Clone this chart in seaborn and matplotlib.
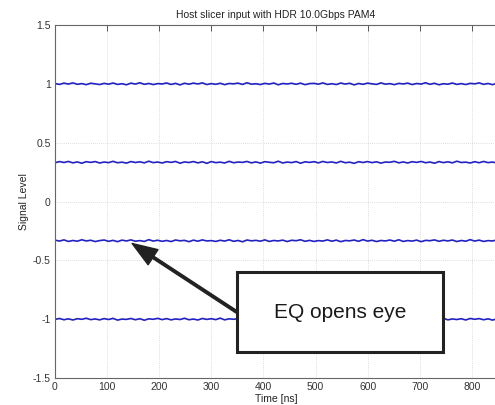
import numpy as np
import pandas as pd
import matplotlib
matplotlib.use("Agg")
import matplotlib.pyplot as plt
import seaborn as sns
from matplotlib.patches import Rectangle

# PAM4 slicer levels (signal units) and measured ripple around each level (thousandths)
levels = [1.0, 1/3, -1/3, -1.0]
ripple_top = [3,-5,6,-2,8,-4,2,-7,5,0,-6,4,-3,7,-5,1,-8,6,-2,9,-4,3,-6,2,-1,7,-5,4,-9,5,
              -3,6,-1,8,-6,2,-4,5,-7,3,0,6,-5,9,-3,1,-6,4,-2,7,-8,3,-1,5,-4,6,-7,2,4,-3,
              8,-5,1,-6,7,-2,5,-9,3,-4,6,0,-5,8,-3,2,-7,4,-1,6,-6,3,-2,9,-4,5,-8,1,-3,7,
              -5,2,-6,4,0,8,-4,3,-7,5]
ripple_upper = [-4,6,-2,7,-5,3,-8,5,-1,6,-6,2,-3,8,-4,1,-7,6,-2,4,-5,9,-3,2,-6,5,-1,7,-8,3,
                -2,6,-5,4,-9,6,-3,1,-6,8,-4,2,-1,7,-5,3,-7,5,0,-4,9,-6,2,-3,6,-8,4,-1,5,-5,
                7,-2,3,-6,8,-4,1,-9,5,-2,6,-3,4,-7,2,0,8,-5,3,-6,5,-1,7,-4,2,-8,6,-3,4,-5,
                9,-2,1,-6,5,-4,7,-3,2,-7]
ripple_lower = [5,-3,7,-6,2,-4,8,-2,4,-7,1,6,-5,3,-8,5,-2,7,-4,1,-6,9,-3,4,-5,2,-7,6,-1,3,
                -8,5,-4,7,-2,1,-6,4,-3,8,-5,2,-9,6,-1,3,-4,7,-6,2,-2,5,-7,4,0,8,-5,3,-6,1,
                -3,7,-4,5,-8,2,-1,6,-5,9,-3,4,-7,2,-2,6,-4,8,-6,1,-3,5,-8,3,0,7,-5,4,-2,6,
                -7,2,-4,9,-3,5,-6,1,-2,7]
ripple_bottom = [-2,6,-5,3,-7,4,-1,8,-4,2,-6,5,-3,7,-8,1,-2,6,-5,4,-9,3,-1,7,-4,5,-6,2,-3,8,
                 -5,1,-7,6,-2,4,-4,9,-6,3,-1,5,-8,2,-3,7,-5,4,-2,6,-7,3,0,8,-4,1,-6,5,-3,7,
                 -5,2,-8,4,-1,6,-4,9,-2,3,-7,5,-6,1,-3,8,-4,2,-5,7,-9,3,-1,6,-4,5,-2,8,-6,2,
                 -3,4,-7,6,-1,5,-5,3,-8,4]
ripples = [ripple_top, ripple_upper, ripple_lower, ripple_bottom]

x_end = 848          # last time sample shown [ns]
x_ticks = [0, 100, 200, 300, 400, 500, 600, 700, 800]
y_ticks = [-1.5, -1, -0.5, 0, 0.5, 1, 1.5]
y_ticklabels = ["-1.5", "-1", "-0.5", "0", "0.5", "1", "1.5"]
title = "Host slicer input with HDR 10.0Gbps PAM4"
note = "EQ opens eye"

frames = []
for i, (lvl, rip) in enumerate(zip(levels, ripples)):
    t = np.linspace(0, x_end, len(rip))
    frames.append(pd.DataFrame({"t": t, "v": lvl + np.array(rip) / 1000.0, "level": i}))
df = pd.concat(frames, ignore_index=True)

sns.set_theme(style="white")
plt.rcParams["font.family"] = ["Liberation Sans", "DejaVu Sans"]

fig = plt.figure(figsize=(4.95, 4.05), dpi=100)
ax = fig.add_axes([55/495, 1 - 378/405, 442/495, 353/405])

sns.lineplot(data=df, x="t", y="v", units="level", estimator=None,
             color="#2222c4", linewidth=1.2, ax=ax, legend=False)

ax.set_xlim(0, x_end)
ax.set_ylim(-1.5, 1.5)
ax.set_xticks(x_ticks)
ax.set_xticklabels([str(v) for v in x_ticks])
ax.set_yticks(y_ticks)
ax.set_yticklabels(y_ticklabels)
ax.grid(True, linestyle=(0, (1, 1.5)), color="#d2d2d2", linewidth=0.6)
ax.tick_params(direction="in", length=4, width=0.7, colors="#555555",
               labelcolor="#333333", labelsize=7.5, top=True, right=False, pad=3)
for side in ["left", "bottom", "top"]:
    ax.spines[side].set_color("#666666")
    ax.spines[side].set_linewidth(0.8)
ax.spines["right"].set_visible(False)

ax.set_title(title, fontsize=7.5, color="#222222", pad=5)
ax.set_xlabel("Time [ns]", fontsize=7.5, color="#222222", labelpad=1)
ax.set_ylabel("Signal Level", fontsize=7.5, color="#222222", labelpad=3)

# callout box with arrow pointing at the inner eye level
ax.add_patch(Rectangle((350, -1.283), 394, 0.68, facecolor="white",
                       edgecolor="#222222", linewidth=2.2, zorder=5))
ax.text(547, -0.945, note, ha="center", va="center", fontsize=15,
        color="#1a1a1a", zorder=6)
ax.annotate("", xy=(148, -0.357), xytext=(350, -0.943),
            arrowprops=dict(facecolor="#222222", edgecolor="#222222",
                            width=1.8, headwidth=13, headlength=18, shrink=0),
            zorder=6)

fig.savefig("out.png", dpi=100)
